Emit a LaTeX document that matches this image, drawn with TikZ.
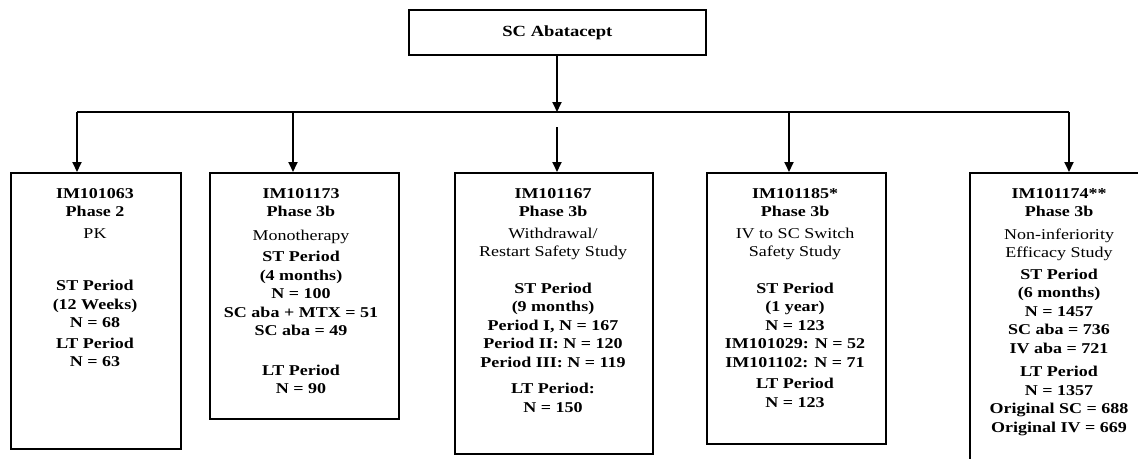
\documentclass[tikz,border=0pt]{standalone}
\usepackage{fontspec}
\setmainfont{Liberation Serif}[FakeStretch=1.2]
\usetikzlibrary{arrows.meta}
\begin{document}
\begin{tikzpicture}[x=1pt,y=-1pt,
  box/.style={draw, line width=1.8pt, inner sep=0pt, anchor=north west},
  txt/.style={align=center, anchor=north, inner sep=0pt,
    font=\fontsize{15}{18.5}\selectfont\bfseries},
  arr/.style={line width=1.8pt, -{Triangle[length=10pt,width=9pt]}},
  ln/.style={line width=1.8pt}]
\useasboundingbox (0,0) rectangle (1138,458);
\clip (0,0) rectangle (1138,458);
% top box
\node[box, minimum width=297pt, minimum height=45pt,
  font=\fontsize{15.5}{18}\selectfont\bfseries] (top) at (408,9) {SC Abatacept};
% study boxes
\node[box, minimum width=170pt, minimum height=276pt] (b1) at (10,172) {};
\node[box, minimum width=189pt, minimum height=246pt] (b2) at (209,172) {};
\node[box, minimum width=198pt, minimum height=281pt] (b3) at (454,172) {};
\node[box, minimum width=179pt, minimum height=271pt] (b4) at (706,172) {};
\node[box, minimum width=180pt, minimum height=320pt] (b5) at (969,172) {};
% texts
\node[txt] (t1) at (95,188) {IM101063\\ Phase 2\\[3pt] {\mdseries PK}\\[34pt]
  ST Period\\ (12 Weeks)\\ N = 68\\[2pt] LT Period\\ N = 63};
\node[txt] (t2) at (301,188) {IM101173\\ Phase 3b\\[5pt] {\mdseries Monotherapy}\\[3pt]
  ST Period\\ (4 months)\\ N = 100\\ SC aba + MTX = 51\\ SC aba = 49\\[21pt]
  LT Period\\ N = 90};
\node[txt] (t3) at (553,188) {IM101167\\ Phase 3b\\[3pt] {\mdseries Withdrawal/}\\
  {\mdseries Restart Safety Study}\\[18pt] ST Period\\ (9 months)\\ Period I, N = 167\\
  Period II: N = 120\\ Period III: N = 119\\[8pt] LT Period:\\ N = 150};
\node[txt] (t4) at (795,188) {IM101185*\\ Phase 3b\\[3pt] {\mdseries IV to SC Switch}\\
  {\mdseries Safety Study}\\[18pt] ST Period\\ (1 year)\\ N = 123\\ IM101029: N = 52\\
  IM101102: N = 71\\[3pt] LT Period\\ N = 123};
\node[txt] (t5) at (1059,188) {IM101174**\\ Phase 3b\\[4pt] {\mdseries Non-inferiority}\\
  {\mdseries Efficacy Study}\\[3pt] ST Period\\ (6 months)\\ N = 1457\\ SC aba = 736\\
  IV aba = 721\\[5pt] LT Period\\ N = 1357\\ Original SC = 688\\ Original IV = 669};
% connectors
\coordinate (hub) at (557,112);
\coordinate (h1) at (77,112);
\coordinate (h2) at (293,112);
\coordinate (h3) at (557,127);
\coordinate (h4) at (789,112);
\coordinate (h5) at (1069,112);
\draw[arr] (top.south -| hub) -- (hub);
\draw[ln] (h1) -- (h5);
\draw[arr] (h1) -- (h1 |- b1.north);
\draw[arr] (h2) -- (h2 |- b2.north);
\draw[arr] (h3) -- (h3 |- b3.north);
\draw[arr] (h4) -- (h4 |- b4.north);
\draw[arr] (h5) -- (h5 |- b5.north);
\end{tikzpicture}
\end{document}
